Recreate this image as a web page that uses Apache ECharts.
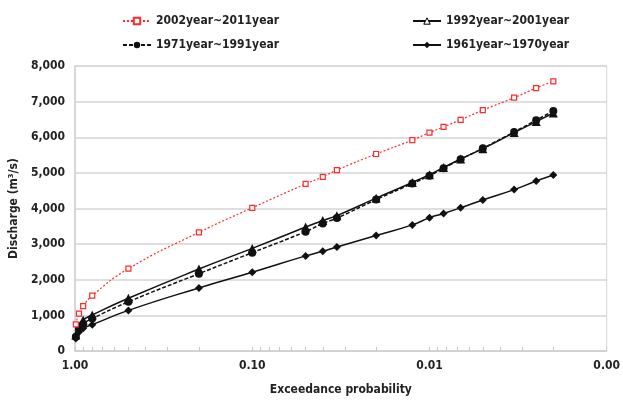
<!DOCTYPE html>
<html>
<head>
<meta charset="utf-8">
<script src="https://cdn.jsdelivr.net/npm/echarts@6/dist/echarts.min.js"></script>
<style>
html,body{margin:0;padding:0;background:#fff;}
#chart{width:623px;height:401px;}
</style>
</head>
<body>
<div id="chart"></div>
<script>
// exceedance probability of each point
var probs = [0.99, 0.95, 0.9, 0.8, 0.5, 0.2, 0.1, 0.05, 0.04, 0.0333, 0.02, 0.0125, 0.01, 0.00833, 0.00667, 0.005, 0.00333, 0.0025, 0.002];

var names = ['2002year~2011year', '1992year~2001year', '1971year~1991year', '1961year~1970year'];
// discharge (m3/s)
var q2002 = [750, 1050, 1260, 1555, 2310, 3330, 4020, 4690, 4890, 5080, 5530, 5920, 6130, 6290, 6490, 6760, 7110, 7380, 7570];
var q1992 = [450, 700, 870, 1010, 1480, 2300, 2880, 3480, 3660, 3800, 4290, 4730, 4950, 5150, 5390, 5680, 6130, 6440, 6680];
var q1971 = [400, 620, 760, 910, 1380, 2170, 2760, 3350, 3580, 3730, 4250, 4700, 4920, 5130, 5380, 5690, 6150, 6480, 6740];
var q1961 = [350, 530, 640, 740, 1140, 1770, 2210, 2670, 2800, 2920, 3240, 3540, 3740, 3860, 4020, 4240, 4530, 4770, 4940];

var xLabels = [1, 0.1, 0.01, 0.001];
var minorMult = [2, 3, 4, 5, 6, 7, 8, 9];

var FONT = "'Liberation Sans Narrow', 'DejaVu Sans Condensed', sans-serif";

function pairs(vals){
	var out = [];
	for(var i=0;i<probs.length;i++) out.push([probs[i], vals[i]]);
	return out;
}

// tick marks: decades plus 2..9 inside every decade
var tickVals = xLabels.slice();
for(var k=1;k<xLabels.length;k++){
	for(var m=0;m<minorMult.length;m++){
		tickVals.push(+(minorMult[m]*xLabels[k]).toPrecision(3));
	}
}

function legendAt(name, left, top, icon){
	return {
		data: [icon ? {name:name, itemStyle:icon} : name],
		left: left, top: top,
		itemWidth: 28, itemHeight: 8, itemGap: 4,
		textStyle: {fontFamily: FONT, fontSize: 12, fontWeight: 'bold', color: '#222'}
	};
}

var myChart = echarts.init(document.getElementById('chart'));
var option = {
	animation: false,
	backgroundColor: '#fff',
	legend: [
		legendAt(names[0], 117, 10),
		legendAt(names[1], 407, 10, {color:'#fff', borderColor:'#000', borderWidth:1}),
		legendAt(names[2], 117, 34),
		legendAt(names[3], 407, 34)
	],
	grid: {left: 72, right: 11, top: 66, bottom: 48, show: true, borderColor: '#d4d4d4', borderWidth: 1},
	xAxis: {
		type: 'log', logBase: 10, min: 0.001, max: 1, inverse: true,
		name: 'Exceedance probability', nameLocation: 'middle', nameGap: 33,
		nameTextStyle: {fontFamily: FONT, fontSize: 12, fontWeight: 'bold', color: '#222'},
		axisLine: {lineStyle: {color: '#d0d0d0', width: 1.5}},
		axisTick: {show: true, inside: true, length: 4, customValues: tickVals, lineStyle: {color: '#c8c8c8'}},
		axisLabel: {customValues: xLabels, margin: 9, fontFamily: FONT, fontSize: 12, fontWeight: 'bold', color: '#222',
			formatter: function(v){ return (+v).toFixed(2); }},
		splitLine: {show: false}
	},
	yAxis: {
		type: 'value', min: 0, max: 8000, interval: 1000,
		name: 'Discharge (m³/s)', nameLocation: 'middle', nameGap: 48,
		nameTextStyle: {fontFamily: FONT, fontSize: 12, fontWeight: 'bold', color: '#222'},
		axisLine: {show: true, lineStyle: {color: '#d0d0d0', width: 1.5}},
		axisTick: {show: false},
		axisLabel: {margin: 10, fontFamily: FONT, fontSize: 12, fontWeight: 'bold', color: '#222',
			formatter: function(v){ return v.toLocaleString('en-US'); }},
		splitLine: {lineStyle: {color: '#d4d4d4', width: 1.5}}
	},
	series: [
		{
			name: names[0], type: 'line', data: pairs(q2002), smooth: 0.5,
			symbol: 'rect', symbolSize: 5,
			lineStyle: {color: '#ff2a2a', width: 1.2, type: [2, 2]},
			itemStyle: {color: '#fff', borderColor: '#ff2a2a', borderWidth: 1.2},
			z: 5
		},
		{
			name: names[1], type: 'line', data: pairs(q1992), smooth: 0.5,
			symbol: 'triangle', symbolSize: 9,
			lineStyle: {color: '#111', width: 1.5},
			itemStyle: {color: '#111'}
		},
		{
			name: names[2], type: 'line', data: pairs(q1971), smooth: 0.5,
			symbol: 'circle', symbolSize: 8,
			lineStyle: {color: '#111', width: 1.5, type: [4, 2]},
			itemStyle: {color: '#111'}
		},
		{
			name: names[3], type: 'line', data: pairs(q1961), smooth: 0.5,
			symbol: 'diamond', symbolSize: 8,
			lineStyle: {color: '#111', width: 1.5},
			itemStyle: {color: '#111'}
		}
	]
};
myChart.setOption(option);
</script>
</body>
</html>
